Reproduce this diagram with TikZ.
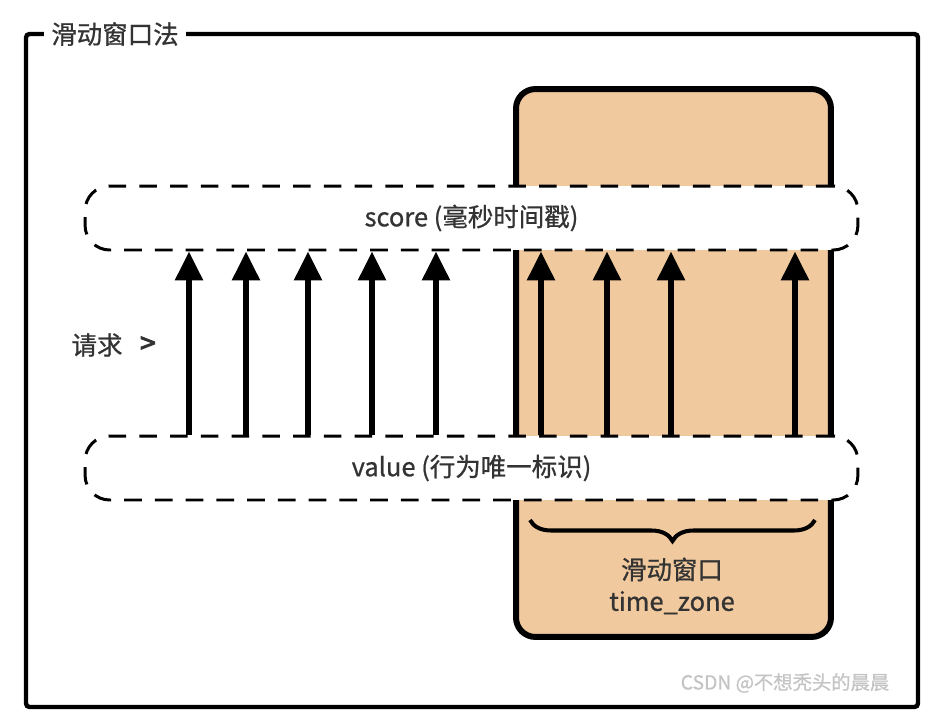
\documentclass[tikz,border=0pt]{standalone}
\usepackage{fontspec}
\setmainfont{Noto Sans CJK SC}[FakeBold=0.8]
\newfontfamily\chevfont[FakeBold=3.5]{Noto Sans CJK SC}
\usepackage{tikz}
\usetikzlibrary{arrows.meta,positioning,decorations.pathreplacing}
\definecolor{window-orange}{RGB}{241,201,158}
\definecolor{ink}{RGB}{51,51,51}
\definecolor{mark-grey}{RGB}{196,196,196}
\tikzset{
    frame-line/.style = {draw=black, line width=2.5pt, rounded corners=2pt},
    frame-title/.style = {fill=white, text=ink, font=\fontsize{14.5}{16}\selectfont, inner xsep=4pt},
    window-box/.style = {draw=black, fill=window-orange, line width=3.4pt, rectangle, rounded corners=11pt, minimum width=6.3cm, minimum height=10.96cm},
    dash-box/.style = {draw=black, fill=white, line width=1.7pt, dash pattern=on 10pt off 7.5pt, rectangle, rounded corners=14pt, minimum width=15.46cm, minimum height=1.28cm, text=ink, font=\fontsize{14.5}{16}\selectfont},
    req-arrow/.style = {draw=black, line width=3.4pt, -{Triangle[width=0.54cm,length=0.58cm]}},
    window-brace/.style = {draw=black, line width=2.3pt, decorate, decoration={brace, mirror, amplitude=0.42cm}},
    label-text/.style = {text=ink, font=\fontsize{14.5}{18}\selectfont, align=center},
}

\begin{document}
\begin{tikzpicture}[x=0.02cm, y=-0.02cm]
\useasboundingbox (0,0) rectangle (938,724);
% outer frame with its title
\node [frame-title] (title) at (115,34) {滑动窗口法};
\draw [frame-line] (title.west) -- (26,34) -- (26,707) -- (918,707) -- (918,34) -- (title.east);
% the window behind the two rows
\node [window-box] (window) at (673.5,363) {};
\node [dash-box] (score) at (471.5,218) {score (毫秒时间戳)};
\node [dash-box] (value) at (471.5,468) {value (行为唯一标识)};
% requests
\foreach \x in {189,246,308,372,436,541,607,671,795}
    \draw [req-arrow] (value.north -| \x,0) -- (score.south -| \x,0);
\node [label-text] (ask) at (97,345) {请求};
\node [label-text, right=3pt of ask] (ask-mark) {\chevfont\fontsize{16}{17}\selectfont >};
% brace under the window
\coordinate (brace-l) at (530,520);
\coordinate (brace-r) at (815,520);
\draw [window-brace] (brace-l) -- (brace-r);
\node [label-text] (span) at (672,586) {滑动窗口\\time\_zone};
\node [text=mark-grey, font=\fontsize{11}{13}\selectfont] (mark) at (785,683) {CSDN @不想秃头的晨晨};
\end{tikzpicture}
\end{document}
